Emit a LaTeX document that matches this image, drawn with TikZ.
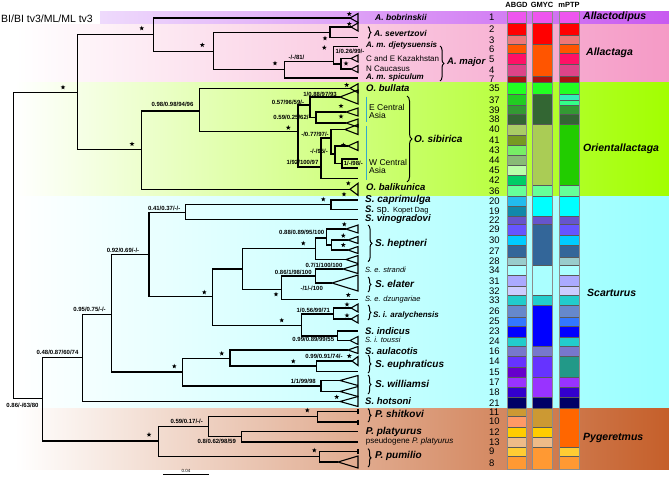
\documentclass[tikz,border=0pt]{standalone}
\usepackage{fontspec}
\setmainfont{Liberation Sans}
\usetikzlibrary{shapes.geometric,decorations.pathreplacing}
\definecolor{bandAd}{HTML}{C85AF0}
\definecolor{bandAdl}{HTML}{EEDAFC}
\definecolor{bandAl}{HTML}{F59AC6}
\definecolor{bandOr}{HTML}{A2FF00}
\definecolor{bandSc}{HTML}{99FFFF}
\definecolor{bandPy}{HTML}{C55F2A}
\definecolor{asia}{HTML}{33AACC}
\newcommand{\fsz}[1]{\fontsize{#1}{#1}\selectfont}
\newcommand{\tri}[4]{\coordinate (#1) at (#2,#3);
  \draw[tree] (#1) -- (358,#3-#4) -- (358,#3+#4) -- cycle;}

\begin{document}
\begin{tikzpicture}[x=1pt,y=-1pt,
  tree/.style={line width=1.1pt},
  cell/.style={draw=black!65, line width=0.5pt},
  sup/.style={font=\fsz{6}\bfseries, inner sep=0pt},
  sp/.style={anchor=west, inner sep=0pt, font=\fsz{9.5}\bfseries\itshape},
  spb/.style={anchor=west, inner sep=0pt, font=\fsz{10}\bfseries\itshape},
  spm/.style={anchor=west, inner sep=0pt, font=\fsz{8}\bfseries\itshape},
  sps/.style={anchor=west, inner sep=0pt, font=\fsz{7.5}\itshape},
  loc/.style={anchor=west, inner sep=0pt, font=\fsz{8.5}, align=left},
  genus/.style={anchor=west, inner sep=0pt, font=\fsz{10.5}\bfseries\itshape},
  num/.style={anchor=west, inner sep=0pt, font=\fsz{9.5}},
  strs/.style={star, star points=5, star point ratio=2.4, fill=black, inner sep=0pt, minimum size=5pt},
  brc/.style={decorate, decoration={brace, amplitude=4pt}, line width=1pt}]
  \useasboundingbox (0,0) rectangle (669,477);

  \shade[left color=bandAdl, right color=bandAd] (100,11) rectangle (669,24);
  \shade[left color=white, right color=bandAl] (15,24) rectangle (669,82.3);
  \shade[left color=white, right color=bandOr] (15,82.3) rectangle (669,196.7);
  \shade[left color=white, right color=bandSc] (15,196.7) rectangle (669,408.7);
  \shade[left color=white, right color=bandPy] (15,408.7) rectangle (669,469.3);

  \node[anchor=west, inner sep=0pt, font=\fsz{10.5}] (hBI) at (1,18.5) {BI/BI tv3/ML/ML tv3};
  \node[font=\fsz{7.5}\bfseries] (hA) at (516.5,5) {ABGD};
  \node[font=\fsz{7.5}\bfseries] (hG) at (542,5) {GMYC};
  \node[font=\fsz{7.5}\bfseries] (hM) at (569,5) {mPTP};

  \foreach \n/\ya/\yb/\c in {1/11/23.3/EE55EE, 2/23.3/35.7/FF0000, 3/35.7/44.3/EE7777,
      6/44.3/53.3/FF5500, 5/53.3/64.3/FF1166, 4/64.3/76/DD4488, 7/76/82.3/AA1111,
      35/82.3/94.3/22FF22, 37/94.3/105.7/22CC22, 39/105.7/114/339933, 38/114/124.3/336633,
      40/124.3/135/AACC66, 41/135/145/779922, 43/145/155.7/77EE66, 44/155.7/165/88BB77,
      45/165/175/BBFFAA, 42/175/185/00CC66, 36/185/196.7/66FF99, 20/196.7/206/22BBEE,
      19/206/216/1188AA, 22/216/224/6655CC, 29/224/235.3/6655FF, 30/235.3/245/00CCFF,
      27/245/257.3/336699, 28/257.3/265/99CCCC, 34/265/275.7/AAFFFF, 31/275.7/286.7/AAAAFF,
      32/286.7/295/CCCCFF, 33/295/305/22CCCC, 26/305/317/6688CC, 25/317/326.3/3377FF,
      23/326.3/337/0000FF, 24/337/346.3/22CCCC, 16/346.3/356.3/7777CC, 14/356.3/367/6633FF,
      15/367/377/6600CC, 17/377/387/9933FF, 18/387/397/3300CC, 21/397/408.7/000066,
      11/408.7/416.3/CC9933, 10/416.3/427/FF9966, 12/427/437.7/FFCC00, 13/437.7/447/EEBB88,
      9/447/456.3/FFCC33, 8/456.3/469.3/FF9933} {
    \definecolor{cc}{HTML}{\c}
    \draw[cell, fill=cc] (507,\ya) rectangle (526,\yb);
    \node[num] (r\n) at (489,{(\ya+\yb)/2}) {\n};
  }
  \foreach \ya/\yb/\c in {11/23.3/EE55EE, 23.3/44.3/FF0000, 44.3/76/FF5500, 76/82.3/AA1111,
      82.3/94.3/22FF22, 94.3/124.3/336633, 124.3/185/AACC55, 185/196.7/66FF99,
      196.7/216/00FFFF, 216/224/6655CC, 224/265/336699, 265/295/AAFFFF, 295/305/22CCCC,
      305/346.3/0000FF, 346.3/356.3/7777CC, 356.3/377/6633FF, 377/397/9933FF,
      397/408.7/000066, 408.7/427/CC9933, 427/437.7/FFCC00, 437.7/447/EEBB88,
      447/469.3/FF9933} {
    \definecolor{cc}{HTML}{\c}
    \draw[cell, fill=cc] (532,\ya) rectangle (552,\yb);
  }
  \foreach \ya/\yb/\c in {11/23.3/EE55EE, 23.3/35.7/FF0000, 35.7/44.3/EE7777, 44.3/53.3/FF5500,
      53.3/64.3/FF1166, 64.3/76/DD4488, 76/82.3/AA1111, 82.3/94.3/22FF22, 94.3/100/33EEBB,
      100/105.7/33FF88, 105.7/114/339933, 114/124.3/336633, 124.3/185/22CC00,
      185/196.7/66FF99, 196.7/216/00FFFF, 216/224/6655CC, 224/235.3/6655FF,
      235.3/245/00CCFF, 245/257.3/336699, 257.3/265/99CCCC, 265/275.7/AAFFFF,
      275.7/286.7/AAAAFF, 286.7/295/CCCCFF, 295/305/22CCCC, 305/317/6688CC,
      317/326.3/3377FF, 326.3/337/0000FF, 337/346.3/22CCCC, 346.3/356.3/7777CC,
      356.3/377/229988, 377/387/9933FF, 387/397/3300CC, 397/408.7/000066,
      408.7/447/FF6600, 447/456.3/FFCC33, 456.3/469.3/FF9933} {
    \definecolor{cc}{HTML}{\c}
    \draw[cell, fill=cc] (559,\ya) rectangle (579,\yb);
  }
  \draw[black!45, line width=0.8pt] (507,11) rectangle (526,469.3);
  \draw[black!45, line width=0.8pt] (532,11) rectangle (552,469.3);
  \draw[black!45, line width=0.8pt] (559,11) rectangle (579,469.3);

  \node[genus] (gAd) at (583,17) {Allactodipus};
  \node[genus] (gAl) at (586,53) {Allactaga};
  \node[genus] (gOr) at (583,149) {Orientallactaga};
  \node[genus] (gSc) at (587,293) {Scarturus};
  \node[genus] (gPy) at (583,438) {Pygeretmus};

  \coordinate (nRoot) at (13.3,245);
  \coordinate (nUp) at (77.3,92.3);
  \coordinate (nLow) at (42.7,398.7);
  \coordinate (nAll) at (153.3,34.3);
  \coordinate (nOri) at (141.7,149.7);
  \tri{tBob}{350}{18}{4.5}
  \coordinate (nAl2) at (213.3,51.7);
  \coordinate (nSev) at (330,32.5);
  \tri{tSev1}{351}{27}{4}
  \coordinate (tSev2) at (358,37.7);
  \coordinate (nMaj) at (284.3,69.5);
  \coordinate (nMaj2) at (333.3,61.7);
  \coordinate (tDjet) at (358,46.7);
  \coordinate (nKaz) at (341,64);
  \tri{tKaz}{351}{58.5}{3.5}
  \tri{tCau}{351}{69}{3.5}
  \coordinate (tSpic) at (358,78);

  \coordinate (nOr2) at (199.3,111);
  \tri{tBul}{350}{88.3}{4.5}
  \coordinate (nSib) at (298,131.7);
  \coordinate (nE1) at (310,105);
  \tri{tE37}{340}{97}{7}
  \coordinate (nE2) at (316,117.5);
  \tri{tE39}{346}{112}{4}
  \tri{tE38}{346}{123}{4}
  \coordinate (nW1) at (321,167);
  \coordinate (nW2) at (331,138);
  \tri{tW40}{345}{129.5}{5}
  \coordinate (nW3) at (335,154);
  \tri{tW41}{348}{146}{4.5}
  \coordinate (nW4) at (342,163.5);
  \coordinate (tW43) at (358,159);
  \coordinate (tW44) at (358,168);
  \coordinate (tW42) at (358,178.3);
  \tri{tBal}{350}{189.3}{6}

  \coordinate (nSc) at (82.3,357.7);
  \coordinate (nSc2) at (111.7,314.3);
  \coordinate (nSc3) at (149,254.3);
  \coordinate (nCap) at (185.7,212.3);
  \coordinate (nCap2) at (331,204.5);
  \coordinate (tCap) at (358,200);
  \coordinate (tKop) at (358,209.3);
  \coordinate (tVin) at (358,219.5);
  \coordinate (nSc4) at (212.7,296.7);
  \coordinate (nSc5) at (242.3,269);
  \coordinate (nHep) at (315.7,248.3);
  \coordinate (nHep2) at (326.7,238);
  \tri{tH29}{346}{229}{4}
  \coordinate (nHep3) at (331.7,245);
  \tri{tH30}{348}{240}{3.5}
  \tri{tH27}{348}{250}{3.5}
  \tri{tH28}{346}{259.5}{4}
  \coordinate (nEla) at (281.7,289.3);
  \coordinate (nEla2) at (315.7,276);
  \tri{tStr}{343}{269}{4.5}
  \tri{tEla}{332}{283}{8}
  \coordinate (tDzu) at (358,299.5);
  \coordinate (nAra0) at (301.7,325.3);
  \coordinate (nAra) at (333.3,314);
  \tri{tAra1}{351}{308}{4}
  \tri{tAra2}{351}{319}{4}
  \coordinate (nInd) at (337.3,336);
  \coordinate (tInd) at (358,331);
  \tri{tTou}{350}{340.5}{4}
  \coordinate (nEu) at (182.3,372);
  \coordinate (nEu2) at (230,358.7);
  \tri{tAul}{348}{350}{3.5}
  \coordinate (nEup) at (316.7,366);
  \tri{tEup1}{352}{361}{4.5}
  \coordinate (tEup2) at (358,371.5);
  \coordinate (nWil) at (321,386);
  \tri{tWil1}{340}{380.5}{5}
  \tri{tWil2}{340}{391.5}{5}
  \tri{tHot}{340}{401.5}{5}

  \coordinate (nPy) at (158.3,441);
  \coordinate (nPy2) at (208.3,426.3);
  \coordinate (nShi) at (317.7,416.5);
  \coordinate (tShi1) at (358,411.3);
  \coordinate (tShi2) at (358,422);
  \coordinate (nPla) at (241.7,436.5);
  \coordinate (tPla) at (358,431.3);
  \coordinate (tPse) at (358,442);
  \coordinate (nPum) at (319.3,456.3);
  \coordinate (tPum1) at (358,451.5);
  \tri{tPum2}{338}{462}{6}

  \foreach \p/\c in {nRoot/nUp, nRoot/nLow, nUp/nAll, nUp/nOri, nAll/tBob, nAll/nAl2,
      nAl2/nSev, nAl2/nMaj, nSev/tSev1, nSev/tSev2, nMaj/nMaj2, nMaj/tSpic,
      nMaj2/tDjet, nMaj2/nKaz, nKaz/tKaz, nKaz/tCau,
      nOri/nOr2, nOri/tBal, nOr2/tBul, nOr2/nSib, nSib/nE1, nSib/nW1,
      nE1/tE37, nE1/nE2, nE2/tE39, nE2/tE38, nW1/nW2, nW1/tW42, nW2/tW40, nW2/nW3,
      nW3/tW41, nW3/nW4, nW4/tW43, nW4/tW44,
      nLow/nSc, nLow/nPy, nSc/nSc2, nSc/tHot, nSc2/nSc3, nSc2/nEu, nSc3/nCap, nSc3/nSc4,
      nCap/nCap2, nCap/tVin, nCap2/tCap, nCap2/tKop, nSc4/nSc5, nSc4/nAra0,
      nSc5/nHep, nSc5/nEla, nHep/nHep2, nHep/tH28, nHep2/tH29, nHep2/nHep3,
      nHep3/tH30, nHep3/tH27, nEla/nEla2, nEla/tDzu, nEla2/tStr, nEla2/tEla,
      nAra0/nAra, nAra0/nInd, nAra/tAra1, nAra/tAra2, nInd/tInd, nInd/tTou,
      nEu/nEu2, nEu/nWil, nEu2/tAul, nEu2/nEup, nEup/tEup1, nEup/tEup2,
      nWil/tWil1, nWil/tWil2,
      nPy/nPy2, nPy/nPum, nPy2/nShi, nPy2/nPla, nShi/tShi1, nShi/tShi2,
      nPla/tPla, nPla/tPse, nPum/tPum1, nPum/tPum2}
    \draw[tree] (\p) |- (\c);
  \foreach \t in {tShi1,tShi2,tPum1}
    \draw[tree] (\t) ++(0,-2.5) -- ++(0,5);

  \foreach \x/\y [count=\i] in {63/87.3, 141.7/28.3, 202.3/45, 349.3/14, 349.3/24,
      325/38.3, 275/63.3, 324.3/47.7, 346/63.5, 346.7/85, 288.3/127.7, 132/144,
      341/106, 341/116.5, 343.3/145, 348.3/183.3, 344/194.3, 323.3/199.3, 204.3/292.3,
      303.3/243.3, 344.3/224.3, 343.3/235.7, 343.3/245, 276/294.3, 348.3/295,
      347/304.5, 347/315.5, 281.7/320.3, 174.3/366.3, 221.7/353.5, 349.3/356,
      293.3/361.3, 336.7/397, 149/434.7, 307.3/410.3, 314.3/450.3}
    \node[strs] (s\i) at (\x,\y) {};

  \node[sup] (bMaj) at (296.5,57.3) {-/-/81/};
  \node[sup] (bMaj2) at (350,51) {1/0.26/99/-};
  \node[sup] (bOr2) at (172.5,104.3) {0.98/0.98/94/96};
  \node[sup] (bE37) at (320,94.3) {1/0.88/97/93};
  \node[sup] (bE1) at (288,102.3) {0.57/96/59/-};
  \node[sup] (bE2) at (292,117.3) {0.59/0.25/62/-};
  \node[sup] (bW2) at (315,134) {-/0.77/97/-};
  \node[sup] (bW3) at (319,151.7) {-/-/95/-};
  \node[sup] (bW4) at (353.3,163.5) {1/-/98/-};
  \node[sup] (bW1) at (302.5,162.7) {1/92/100/97};
  \node[sup] (bCap) at (164.2,208.3) {0.41/0.37/-/-};
  \node[sup] (bSc3) at (123,250) {0.92/0.69/-/-};
  \node[sup] (bSc2) at (89.5,309) {0.95/0.75/-/-};
  \node[sup] (bSc) at (57.5,352) {0.48/0.87/60/74};
  \node[sup] (bLow) at (22.5,405.7) {0.86/-/63/80};
  \node[sup] (bHep2) at (301.7,232.7) {0.88/0.89/95/100};
  \node[sup] (bStr) at (324,265.5) {0.7/1/100/100};
  \node[sup] (bEla2) at (293.3,272.5) {0.86/1/98/100};
  \node[sup] (bEla) at (311.7,288.5) {-/1/-/100};
  \node[sup] (bAra) at (313.3,310.8) {1/0.56/99/71};
  \node[sup] (bInd) at (313.3,339.5) {0.99/0.89/99/55};
  \node[sup] (bEup) at (324,356.5) {0.99/0.91/74/-};
  \node[sup] (bWil) at (303.3,381.3) {1/1/99/98};
  \node[sup] (bPy2) at (186.7,421.3) {0.59/0.17/-/-};
  \node[sup] (bPla) at (216.7,441) {0.8/0.62/98/59};

  \node[sp, font=\fsz{8.5}\bfseries\itshape] (lBob) at (375,17) {A. bobrinskii};
  \draw[brc, decoration={amplitude=3pt}] (368,26.7) -- (368,38.3);
  \node[sp, font=\fsz{8.5}\bfseries\itshape] (lSev) at (374,33) {A. severtzovi};
  \node[spm] (lDjet) at (366,45.7) {A. m. djetysuensis};
  \node[loc, font=\fsz{8}] (lKaz) at (366,58.3) {C and E Kazakhstan};
  \node[loc, font=\fsz{8}] (lCau) at (366,68.3) {N Caucasus};
  \node[spm] (lSpic) at (366,77.3) {A. m. spiculum};
  \draw[brc] (440,46) -- (440,81);
  \node[sp] (lMaj) at (447,62) {A. major};

  \node[sp] (lBul) at (366,88.3) {O. bullata};
  \draw[asia, line width=0.8pt] (366,96.7) -- (366,121.7);
  \draw[asia, line width=0.8pt] (366,126) -- (366,180);
  \node[loc] (lE) at (369,111.7) {E Central\\Asia};
  \node[loc] (lW) at (369,166.7) {W Central\\Asia};
  \draw[brc, decoration={amplitude=5pt}] (407,96) -- (407,182);
  \node[spb] (lSib) at (414,139) {O. sibirica};
  \node[sp] (lBal) at (366,187.3) {O. balikunica};

  \node[sp, font=\fsz{10}\bfseries\itshape] (lCap) at (365,200) {S. caprimulga};
  \node[sp] (lKop) at (365,210) {S. {\mdseries\upshape sp. {\fsz{7.5}Kopet Dag}}};
  \node[sp] (lVin) at (365,219.5) {S. vinogradovi};
  \draw[brc] (368,225) -- (368,261.7);
  \node[spb] (lHep) at (375,244) {S. heptneri};
  \node[sps] (lStr) at (365,270) {S. e. strandi};
  \draw[brc, decoration={amplitude=3pt}] (368,277) -- (368,292);
  \node[spb] (lEla) at (375,284.3) {S. elater};
  \node[sps] (lDzu) at (365,300) {S. e. dzungariae};
  \draw[brc, decoration={amplitude=3pt}] (368,305) -- (368,320);
  \node[spm] (lAra) at (373,315.3) {S. i. aralychensis};
  \node[sp] (lInd) at (365,331) {S. indicus};
  \node[sps] (lTou) at (365,340.3) {S. i. toussi};
  \node[sp] (lAul) at (365,351.3) {S. aulacotis};
  \draw[brc, decoration={amplitude=3pt}] (368,355) -- (368,373);
  \node[spb] (lEup) at (375,364.7) {S. euphraticus};
  \draw[brc, decoration={amplitude=3pt}] (368,375) -- (368,394);
  \node[spb] (lWil) at (375,384) {S. williamsi};
  \node[sp] (lHot) at (365,401.3) {S. hotsoni};

  \draw[brc, decoration={amplitude=3pt}] (368,408.7) -- (368,422);
  \node[spb] (lShi) at (375,413.7) {P. shitkovi};
  \node[sp, font=\fsz{10}\bfseries\itshape] (lPla) at (365.7,432) {P. platyurus};
  \node[sp, font=\fsz{8}] (lPse) at (365.7,441.3) {pseudogene \textit{P. platyurus}};
  \draw[brc, decoration={amplitude=3pt}] (368,448.7) -- (368,467);
  \node[spb] (lPum) at (375,456) {P. pumilio};

  \coordinate (sb1) at (163,474.7);
  \coordinate (sb2) at (209,474.7);
  \draw[line width=0.8pt] (sb1) -- (sb2);
  \node[font=\fsz{4.5}, inner sep=0pt] (sbl) at (186,471.3) {0.04};
\end{tikzpicture}
\end{document}
